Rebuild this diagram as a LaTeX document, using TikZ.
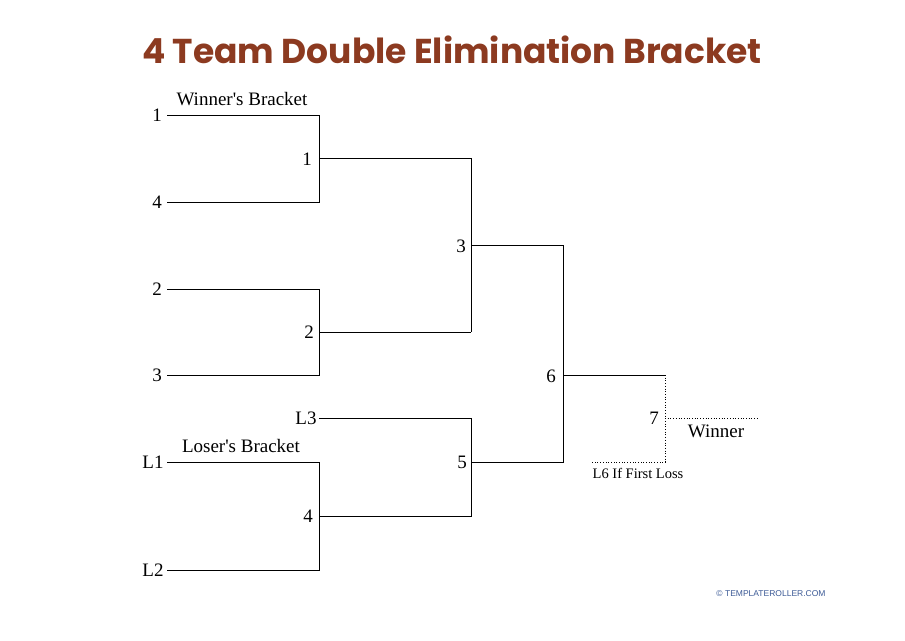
\documentclass[tikz,border=0pt]{standalone}
\usepackage{fontspec}
\setmainfont{Liberation Serif}
\newfontfamily\titlefont{Poppins}
\newfontfamily\wmfont{Liberation Sans}
\definecolor{titlebrown}{RGB}{140,58,32}
\definecolor{wmblue}{RGB}{60,90,150}
\begin{document}
\begin{tikzpicture}[x=1pt,y=-1pt,
  ln/.style={draw=black,line width=0.8pt},
  dl/.style={draw=black,line width=0.7pt,dotted},
  lab/.style={font=\fontsize{19}{19}\selectfont,inner sep=0pt}]
\useasboundingbox (0,0) rectangle (905,640);
\node[font=\titlefont\bfseries\fontsize{34.5}{34.5}\selectfont,text=titlebrown] (title) at (452,50) {4 Team Double Elimination Bracket};
% coordinates
\foreach \n/\x/\y in {s1a/167/115,s1b/319/115,s4a/167/202,s4b/319/202,m1a/319/158,m1b/471/158,
 s2a/167/289,s2b/319/289,s3a/167/375,s3b/319/375,m2a/319/332,m2b/471/332,
 m3a/471/245,m3b/563/245,l3a/319/418,l3b/471/418,m4a/319/516,m4b/471/516,
 m5a/471/462,m5b/563/462,l1a/167/462,l1b/319/462,l2a/167/570,l2b/319/570,
 m6a/563/375,m6b/665/375,m7a/665/462,l6a/592/462,wa/665/418,wb/757/418}
 \coordinate (\n) at (\x,\y);
\draw[ln] (s1a)--(s1b)--(s4b)--(s4a);
\draw[ln] (m1a)--(m1b);
\draw[ln] (s2a)--(s2b)--(s3b)--(s3a);
\draw[ln] (m2a)--(m2b);
\draw[ln] (m1b)--(m2b);
\draw[ln] (m3a)--(m3b)--(m5b)--(m5a);
\draw[ln] (l3a)--(l3b)--(m4b)--(m4a);
\draw[ln] (l1a)--(l1b)--(l2b)--(l2a);
\draw[ln] (m6a)--(m6b);
\draw[dl] (m6b)--(m7a)--(l6a);
\draw[dl] (wa)--(wb);
% labels
\node[lab] (t1) at (157,115) {1};
\node[lab] (t4) at (157,202) {4};
\node[lab] (t2) at (157,289) {2};
\node[lab] (t3) at (157,375) {3};
\node[lab] (g1) at (307,159) {1};
\node[lab] (g2) at (309,332) {2};
\node[lab] (g3) at (461,246) {3};
\node[lab] (gl3) at (306,418) {L3};
\node[lab] (gl1) at (153,462) {L1};
\node[lab] (gl2) at (153,570) {L2};
\node[lab] (g4) at (308,516) {4};
\node[lab] (g5) at (462,462) {5};
\node[lab] (g6) at (551,376) {6};
\node[lab] (g7) at (654,418) {7};
\node[lab] (win) at (716,431) {Winner};
\node[lab] (wb) at (242,99) {Winner\textquotesingle s Bracket};
\node[lab] (lb) at (241,446) {Loser\textquotesingle s Bracket};
\node[inner sep=0pt,font=\fontsize{14.5}{14.5}\selectfont] (l6) at (638,473) {L6 If First Loss};
\node[inner sep=0pt,font=\wmfont\fontsize{8.5}{8.5}\selectfont,text=wmblue] (wm) at (771,594) {\textcopyright{} TEMPLATEROLLER.COM};
\end{tikzpicture}
\end{document}
